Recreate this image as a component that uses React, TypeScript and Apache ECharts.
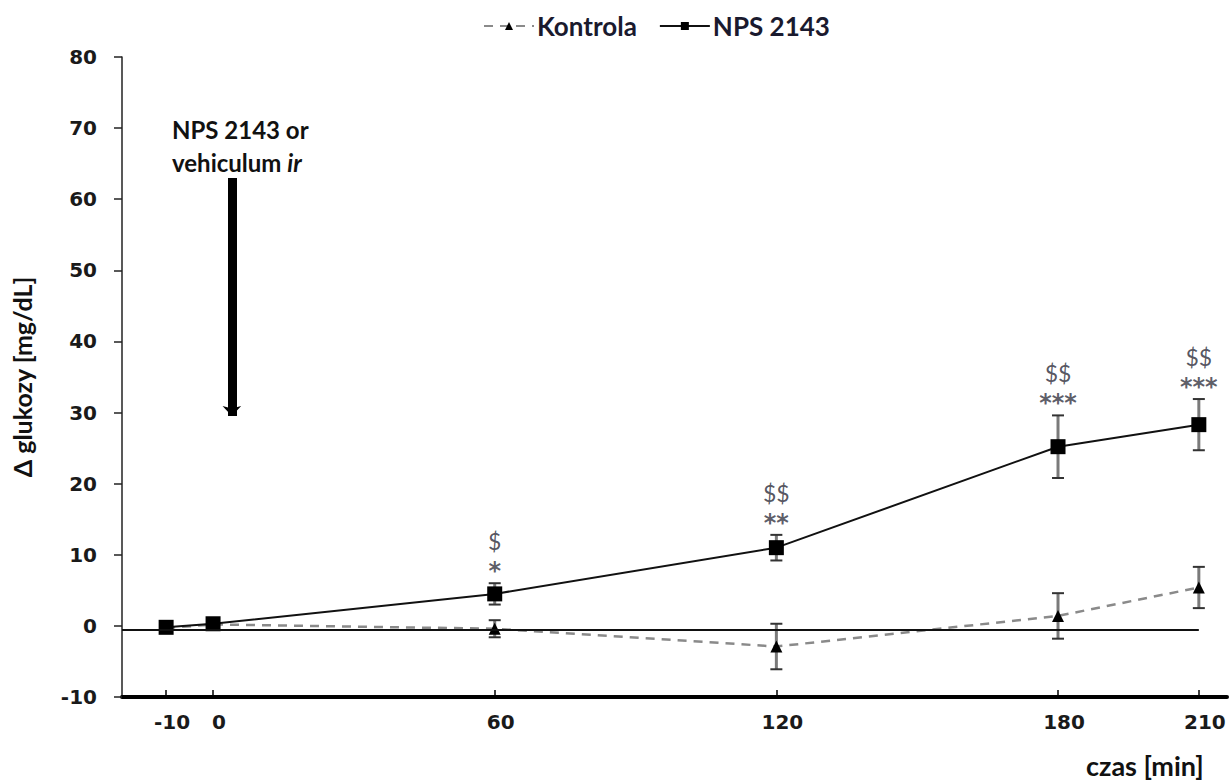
import React, { useEffect, useRef } from "react";
import * as echarts from "echarts";

const xMinutes = [-10, 0, 60, 120, 180, 210];
const npsMean = [-0.2, 0.3, 4.5, 11.0, 25.2, 28.3];
const npsErr = [0.4, 0.4, 1.5, 1.8, 4.4, 3.6];
const kontrolaMean = [-0.3, 0.2, -0.4, -2.9, 1.4, 5.4];
const kontrolaErr = [0.4, 0.4, 1.2, 3.2, 3.2, 2.9];

const xTickValues = [-10, 0, 60, 120, 180, 210];
const annX = [60, 120, 180, 210];
const annDollar = ["$", "$$", "$$", "$$"];
const annStars = ["*", "**", "***", "***"];

const arrowX = 4;
const arrowTop = 63;
const arrowBottom = 29.5;
const baselineY = -0.6;

export default function App() {
  const ref = useRef<HTMLDivElement>(null);
  useEffect(() => {
    const chart = echarts.init(ref.current!, null, { renderer: "svg" });
    const npsData = xMinutes.map((x, i) => [x, npsMean[i]]);
    const konData = xMinutes.map((x, i) => [x, kontrolaMean[i]]);
    const errData = [
      ...xMinutes.map((x, i) => [x, npsMean[i] - npsErr[i], npsMean[i] + npsErr[i]]),
      ...xMinutes.map((x, i) => [x, kontrolaMean[i] - kontrolaErr[i], kontrolaMean[i] + kontrolaErr[i]]),
    ];
    const annData = annX.map((x, i) => {
      const idx = xMinutes.indexOf(x);
      return { value: [x, npsMean[idx] + npsErr[idx]], d: annDollar[i], s: annStars[i] };
    });

    const option: any = {
      animation: false,
      backgroundColor: "#ffffff",
      legend: {
        top: 8,
        left: 478,
        itemWidth: 50,
        itemHeight: 10,
        itemGap: 22,
        data: ["Kontrola", "NPS 2143"],
        textStyle: { fontFamily: "Lato", fontWeight: "bold", fontSize: 26, color: "#1a1a2e", padding: [0, 0, 0, -2] },
      },
      grid: { left: 122, right: 3, top: 57, bottom: 87, containLabel: false, outerBoundsMode: "none" },
      xAxis: {
        type: "value",
        min: -19.4,
        max: 216,
        axisLine: { onZero: false, lineStyle: { color: "#000", width: 4 } },
        splitLine: { show: false },
        axisTick: { show: true, inside: true, length: 7, customValues: xTickValues, lineStyle: { color: "#000", width: 1.5 } },
        axisLabel: {
          customValues: xTickValues,
          margin: 15,
          padding: [0, 0, 0, 12],
          fontFamily: "DejaVu Sans",
          fontWeight: "bold",
          fontSize: 20,
          color: "#1a1a1a",
        },
      },
      yAxis: {
        type: "value",
        min: -10,
        max: 80,
        interval: 10,
        name: "Δ glukozy [mg/dL]",
        nameLocation: "middle",
        nameGap: 88,
        nameTextStyle: { fontFamily: "Lato", fontWeight: "bold", fontSize: 25, color: "#111" },
        axisLine: { show: true, onZero: false, lineStyle: { color: "#222", width: 1.5 } },
        axisTick: { show: true, length: 8, lineStyle: { color: "#222", width: 1.5 } },
        splitLine: { show: false },
        axisLabel: {
          margin: 25,
          fontFamily: "DejaVu Sans",
          fontWeight: "bold",
          fontSize: 20,
          color: "#1a1a1a",
        },
      },
      graphic: [
        {
          type: "text",
          left: 172,
          top: 117,
          style: {
            text: "NPS 2143 or",
            font: "bold 24px Lato",
            fill: "#111",
          },
        },
        {
          type: "text",
          left: 172,
          top: 150,
          style: {
            rich: {
              a: { font: "bold 24px Lato", fill: "#111" },
              b: { font: "italic bold 24px Lato", fill: "#111" },
            },
            text: "{a|vehiculum }{b|ir}",
          },
        },
        {
          type: "text",
          left: 1086,
          top: 752,
          style: { text: "czas [min]", font: "bold 27px Lato", fill: "#111" },
        },
      ],
      series: [
        {
          type: "custom",
          name: "err",
          z: 1,
          silent: true,
          data: errData,
          renderItem: (params: any, api: any) => {
            const x = api.value(0);
            const lo = api.coord([x, api.value(1)]);
            const hi = api.coord([x, api.value(2)]);
            const hw = 6;
            return {
              type: "group",
              children: [
                { type: "line", shape: { x1: lo[0], y1: lo[1], x2: hi[0], y2: hi[1] }, style: { stroke: "#7a7a7a", lineWidth: 3 } },
                { type: "line", shape: { x1: lo[0] - hw, y1: lo[1], x2: lo[0] + hw, y2: lo[1] }, style: { stroke: "#333", lineWidth: 2 } },
                { type: "line", shape: { x1: hi[0] - hw, y1: hi[1], x2: hi[0] + hw, y2: hi[1] }, style: { stroke: "#333", lineWidth: 2 } },
              ],
            };
          },
        },
        {
          type: "line",
          name: "refs",
          data: [],
          silent: true,
          markLine: {
            silent: true,
            symbol: ["none", "none"],
            label: { show: false },
            lineStyle: { color: "#111", width: 2, type: "solid" },
            data: [[{ coord: [-19.4, baselineY] }, { coord: [210, baselineY] }]],
          },
        },
        {
          type: "line",
          name: "arrow",
          data: [],
          silent: true,
          markLine: {
            silent: true,
            symbol: ["none", "arrow"],
            symbolSize: [14, 10],
            label: { show: false },
            lineStyle: { color: "#000", width: 9, type: "solid" },
            data: [[{ coord: [arrowX, arrowTop] }, { coord: [arrowX, arrowBottom] }]],
          },
        },
        {
          type: "line",
          name: "Kontrola",
          z: 3,
          data: konData,
          symbol: "triangle",
          symbolSize: 12,
          itemStyle: { color: "#000" },
          lineStyle: { color: "#8a8a8a", width: 2.5, type: [9, 7] },
        },
        {
          type: "line",
          name: "NPS 2143",
          z: 4,
          data: npsData,
          symbol: "rect",
          symbolSize: 15,
          itemStyle: { color: "#000" },
          lineStyle: { color: "#111", width: 2 },
        },
        {
          type: "scatter",
          name: "ann",
          z: 5,
          silent: true,
          symbolSize: 0,
          data: annData,
          label: {
            show: true,
            position: "top",
            distance: 6,
            formatter: (p: any) => `{d|${p.data.d}}\n{s|${p.data.s}}`,
            rich: {
              d: { fontFamily: "Lato", fontSize: 23, color: "#2a2a38", lineHeight: 28, align: "center" },
              s: { fontFamily: "DejaVu Sans", fontWeight: "bold", fontSize: 24, color: "#33333f", lineHeight: 22, align: "center", padding: [10, 0, 0, 0] },
            },
          },
        },
      ],
    };
    chart.setOption(option);
    return () => chart.dispose();
  }, []);
  return <div ref={ref} style={{ position: "absolute", left: 0, top: 0, width: 1230, height: 784 }} />;
}
